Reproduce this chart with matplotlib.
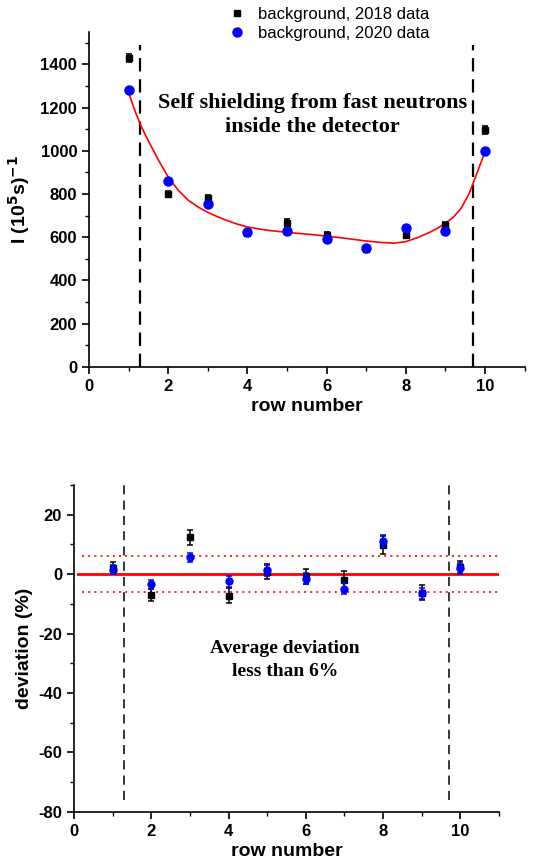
import matplotlib
matplotlib.use("Agg")
import matplotlib.pyplot as plt
from matplotlib.lines import Line2D
from matplotlib.ticker import MultipleLocator

# ---------------- data ----------------
rows = [1, 2, 3, 4, 5, 6, 7, 8, 9, 10]

bkg_2018 = [1430, 800, 780, 620, 665, 610, 545, 610, 655, 1097]
bkg_2018_err = [20, 15, 15, 15, 20, 15, 15, 15, 15, 20]
bkg_2020 = [1280, 860, 752, 624, 628, 593, 550, 641, 628, 998]

# fitted curve
fit_x = [1.00, 1.15, 1.30, 1.50, 1.75, 2.00, 2.25, 2.50, 2.75, 3.00, 3.25,
         3.50, 3.75, 4.00, 4.50, 5.00, 5.50, 6.00, 6.50, 7.00, 7.40, 7.70,
         8.00, 8.30, 8.60, 8.80, 9.00, 9.20, 9.40, 9.60, 9.80, 10.00]
fit_y = [1269, 1190, 1120, 1045, 958, 878, 818, 772, 740, 715, 694,
         676, 660, 647, 632, 622, 614, 605, 594, 582, 575, 572,
         579, 598, 622, 641, 664, 692, 734, 802, 898, 995]

dev_2018 = [2.1, -7.1, 12.4, -7.3, 0.8, -0.8, -2.0, 9.8, -6.3, 2.3]
dev_2018_err = [2.0, 2.0, 2.5, 2.5, 2.5, 2.5, 3.0, 3.0, 2.5, 2.0]
dev_2020 = [1.4, -3.4, 5.6, -2.4, 1.3, -1.5, -4.9, 11.2, -6.5, 1.9]
dev_2020_err = [1.5, 1.5, 1.5, 1.8, 1.8, 1.8, 1.8, 2.0, 1.8, 1.8]

boundaries = [1.3, 9.7]
avg_dev = 6

label_2018 = "background, 2018 data"
label_2020 = "background, 2020 data"

# ---------------- figure ----------------
W, H = 548, 861
plt.rcParams['font.family'] = ['Liberation Sans', 'DejaVu Sans']
plt.rcParams['axes.unicode_minus'] = False
fig = plt.figure(figsize=(W / 100, H / 100), dpi=100)

ax1 = fig.add_axes([89 / W, 1 - 366.7 / H, (524.6 - 89) / W, (366.7 - 32) / H])
ax2 = fig.add_axes([74 / W, 1 - 811.7 / H, (499 - 74) / W, (811.7 - 485) / H])

def style_axes(ax):
    for s in ['top', 'right']:
        ax.spines[s].set_visible(False)
    for s in ['left', 'bottom']:
        ax.spines[s].set_linewidth(1.2)
    ax.tick_params(which='major', direction='out', length=5, width=1.2,
                   labelsize=12)
    ax.tick_params(which='minor', direction='out', length=3, width=1.0)
    for lab in ax.get_xticklabels() + ax.get_yticklabels():
        lab.set_fontweight('bold')

# ---- top panel ----
ax1.set_xlim(0, 11)
ax1.set_ylim(0, 1550)
ax1.xaxis.set_major_locator(MultipleLocator(2))
ax1.xaxis.set_minor_locator(MultipleLocator(1))
ax1.yaxis.set_major_locator(MultipleLocator(200))
ax1.yaxis.set_minor_locator(MultipleLocator(100))

for b in boundaries:
    ax1.axvline(b, ymin=0, ymax=1490 / 1550, color='black', lw=1.6,
                dashes=(6, 3.5), zorder=1)

ax1.plot(fit_x, fit_y, color='red', lw=1.2, zorder=2)
ax1.errorbar(rows, bkg_2018, yerr=bkg_2018_err, fmt='s', color='black',
             ms=5, capsize=2.5, elinewidth=1.2, capthick=1.2, zorder=3)
ax1.plot(rows, bkg_2020, 'o', color='blue', ms=6.5, zorder=4)

ax1.set_xlabel("row number", fontsize=14, fontweight='bold', labelpad=3)
ax1.set_ylabel(r"I (10$^\mathbf{5}$s)$^\mathbf{-1}$", fontsize=14,
               fontweight='bold', labelpad=6)
style_axes(ax1)

# ---- bottom panel ----
ax2.set_xlim(0, 11)
ax2.set_ylim(-80, 30)
ax2.xaxis.set_major_locator(MultipleLocator(2))
ax2.xaxis.set_minor_locator(MultipleLocator(1))
ax2.yaxis.set_major_locator(MultipleLocator(20))
ax2.yaxis.set_minor_locator(MultipleLocator(10))

for b in boundaries:
    ax2.axvline(b, ymin=(-76 + 80) / 110, ymax=1, color='black', lw=1.1,
                dashes=(6, 4), zorder=1)
ax2.axhline(0, xmin=0.1 / 11, xmax=1, color='red', lw=2.0, zorder=2)
for v in (avg_dev, -avg_dev):
    ax2.axhline(v, xmin=0.2 / 11, xmax=1, color='red', lw=1.2,
                linestyle=(0, (1.2, 2.5)), zorder=2)

ax2.errorbar(rows, dev_2018, yerr=dev_2018_err, fmt='s', color='black',
             ms=4.5, capsize=2.5, elinewidth=1.1, capthick=1.1, zorder=3)
ax2.errorbar(rows, dev_2020, yerr=dev_2020_err, fmt='o', color='blue',
             ms=5, capsize=2.5, elinewidth=1.1, capthick=1.1, zorder=4)

ax2.set_xlabel("row number", fontsize=14, fontweight='bold', labelpad=3)
ax2.set_ylabel("deviation (%)", fontsize=14, fontweight='bold', labelpad=4)
style_axes(ax2)

# ---- annotations ----
fig.text(312.5 / W, 1 - 115 / H, "Self shielding from fast neutrons\ninside the detector",
         ha='center', va='center', fontsize=16, fontweight='bold',
         family='Liberation Serif', linespacing=1.3)
fig.text(285 / W, 1 - 660 / H, "Average deviation\nless than 6%",
         ha='center', va='center', fontsize=14, fontweight='bold',
         family='Liberation Serif', linespacing=1.4)

# ---- legend ----
handles = [Line2D([], [], marker='s', color='black', ls='none', ms=5),
           Line2D([], [], marker='o', color='blue', ls='none', ms=6.5)]
fig.legend(handles, [label_2018, label_2020], loc='center left',
           bbox_to_anchor=(228.3 / W, 1 - 24 / H), frameon=False,
           fontsize=12, borderpad=0, borderaxespad=0, handlelength=1.0,
           handletextpad=0.8, labelspacing=0.2)

fig.savefig("out.png", dpi=100)
